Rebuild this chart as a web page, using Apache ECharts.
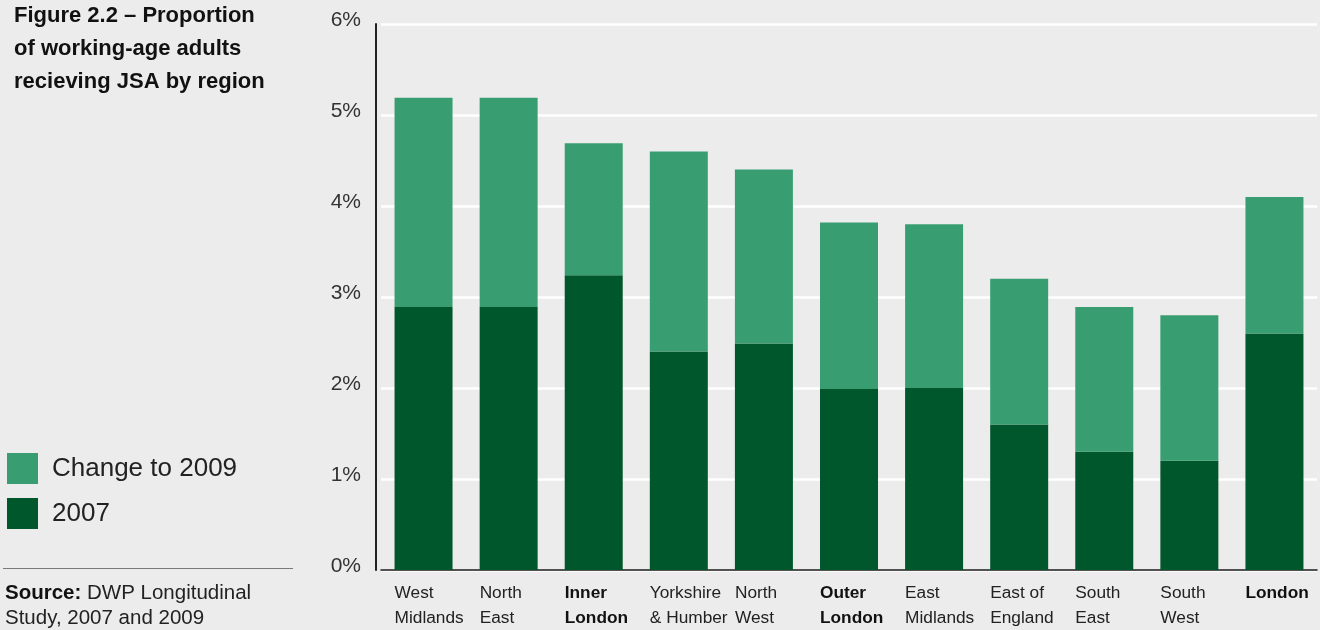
<!DOCTYPE html>
<html>
<head>
<meta charset="utf-8">
<title>Figure 2.2 – Proportion of working-age adults recieving JSA by region</title>
<script src="https://cdn.jsdelivr.net/npm/echarts@6/dist/echarts.min.js"></script>
<style>
  html, body { margin: 0; padding: 0; background: #ececec; }
  #chart { width: 1320px; height: 630px; }
</style>
</head>
<body>
<div id="chart"></div>
<script>
// Regions (two-line labels) and the ones set in bold
const regions = [
  'West\nMidlands', 'North\nEast', 'Inner\nLondon', 'Yorkshire\n& Humber', 'North\nWest',
  'Outer\nLondon', 'East\nMidlands', 'East of\nEngland', 'South\nEast', 'South\nWest', 'London'
];
const boldRegions = ['Inner\nLondon', 'Outer\nLondon', 'London'];

// Share of working-age adults on JSA (%), 2007 level and rise to 2009
const jsa2007 = [2.89, 2.89, 3.24, 2.40, 2.49, 1.99, 2.00, 1.60, 1.30, 1.20, 2.60];
const changeTo2009 = [2.30, 2.30, 1.45, 2.20, 1.91, 1.83, 1.80, 1.60, 1.59, 1.60, 1.50];

const yTicks = { min: 0, max: 6, step: 1 };

const DARK = '#01572c';
const LIGHT = '#389e72';
const TEXT = '#222222';
const SANS = "'Liberation Sans', Arial, Helvetica, sans-serif";

const labelBase = { width: 58, align: 'left', fontFamily: SANS, fontSize: 17.3, lineHeight: 25, color: TEXT };

const chart = echarts.init(document.getElementById('chart'), null, { renderer: 'canvas' });

chart.setOption({
  backgroundColor: '#ececec',
  animation: false,
  title: [
    {
      text: 'Figure 2.2 – Proportion\nof working-age adults\nrecieving JSA by region',
      left: 14,
      top: -1,
      padding: 0,
      textStyle: { fontFamily: SANS, fontWeight: 'bold', fontSize: 22, lineHeight: 33, color: '#111' }
    },
    {
      text: '{b|Source:} DWP Longitudinal\nStudy, 2007 and 2009',
      left: 5,
      top: 581,
      padding: 0,
      textStyle: {
        fontFamily: SANS, fontSize: 20.5, lineHeight: 25, color: TEXT, fontWeight: 'normal',
        rich: { b: { fontFamily: SANS, fontSize: 20.5, lineHeight: 25, fontWeight: 'bold', color: '#111' } }
      }
    }
  ],
  legend: {
    orient: 'vertical',
    left: 7,
    top: 453,
    padding: 0,
    itemWidth: 31,
    itemHeight: 31,
    itemGap: 14,
    icon: 'rect',
    data: ['Change to 2009', '2007'],
    textStyle: { fontFamily: SANS, fontSize: 26, color: TEXT, padding: [0, 0, 0, 9] }
  },
  graphic: [
    {
      type: 'line',
      shape: { x1: 3, y1: 568.5, x2: 293, y2: 568.5 },
      style: { stroke: '#7a7a7a', lineWidth: 1 }
    }
  ],
  grid: { left: 381, right: 3, top: 24, bottom: 60, containLabel: false },
  xAxis: {
    type: 'category',
    data: regions,
    axisTick: { show: false },
    axisLine: { lineStyle: { color: '#1a1a1a', width: 1.5 } },
    axisLabel: {
      interval: 0,
      margin: 11,
      align: 'center',
      formatter: function (value) {
        const tag = boldRegions.indexOf(value) >= 0 ? 'b' : 'n';
        return value.split('\n').map(function (line) { return '{' + tag + '|' + line + '}'; }).join('\n');
      },
      rich: {
        n: labelBase,
        b: Object.assign({}, labelBase, { fontWeight: 'bold', color: '#111' })
      }
    }
  },
  yAxis: {
    type: 'value',
    min: yTicks.min,
    max: yTicks.max,
    interval: yTicks.step,
    offset: 5,
    axisLine: { show: true, lineStyle: { color: '#222', width: 2 } },
    axisTick: { show: false },
    splitLine: { lineStyle: { color: '#ffffff', width: 2.5 } },
    axisLabel: {
      formatter: '{value}%',
      margin: 15,
      fontFamily: SANS,
      fontSize: 21,
      color: '#333',
      verticalAlign: 'bottom',
      lineHeight: 8
    }
  },
  series: [
    {
      name: '2007',
      type: 'bar',
      stack: 'jsa',
      barWidth: 58,
      data: jsa2007,
      itemStyle: { color: DARK }
    },
    {
      name: 'Change to 2009',
      type: 'bar',
      stack: 'jsa',
      barWidth: 58,
      data: changeTo2009,
      itemStyle: { color: LIGHT }
    }
  ]
});
</script>
</body>
</html>
